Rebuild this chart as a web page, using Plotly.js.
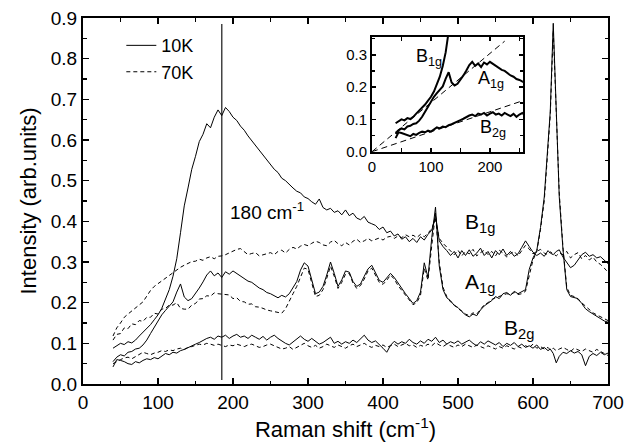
<!DOCTYPE html>
<html><head><meta charset="utf-8">
<script src="https://cdn.plot.ly/plotly-3.0.1.min.js"></script>
<style>html,body{margin:0;padding:0;background:#fff;} #chart{width:634px;height:445px;}</style>
</head><body><div id="chart"></div>
<script>
// Raman shift grid (cm^-1)
const ramanShift = [
 40,45,50,55,60,65,70,75,80,85,
 90,95,100,105,110,115,120,125,130,135,
 140,145,150,155,160,165,170,175,180,185,
 190,195,200,205,210,215,220,225,230,235,
 240,245,250,255,260,265,270,275,280,285,
 290,295,300,305,310,315,320,325,330,335,
 340,345,350,355,360,365,370,375,380,385,
 390,395,400,405,410,415,420,425,430,435,
 440,445,450,455,460,465,470,475,480,485,
 490,495,500,505,510,515,520,525,530,535,
 540,545,550,555,560,565,570,575,580,585,
 590,595,600,605,610,615,620,623,627,631,
 635,640,645,650,655,660,665,670,675,680,
 685,690,695,700];

const b1g10K = [
 0.088,0.095,0.100,0.097,0.104,0.101,0.108,0.118,0.127,0.136,
 0.146,0.158,0.170,0.186,0.208,0.232,0.265,0.308,0.372,0.438,
 0.482,0.528,0.560,0.596,0.614,0.640,0.630,0.656,0.674,0.660,
 0.680,0.670,0.656,0.648,0.634,0.624,0.610,0.598,0.586,0.574,
 0.562,0.550,0.540,0.528,0.520,0.506,0.500,0.490,0.482,0.474,
 0.470,0.460,0.456,0.448,0.442,0.455,0.434,0.428,0.432,0.422,
 0.426,0.416,0.428,0.414,0.420,0.408,0.404,0.412,0.398,0.394,
 0.390,0.380,0.386,0.372,0.376,0.364,0.369,0.356,0.362,0.350,
 0.358,0.348,0.362,0.354,0.368,0.378,0.415,0.352,0.338,0.328,
 0.316,0.326,0.310,0.328,0.316,0.330,0.314,0.322,0.334,0.316,
 0.326,0.310,0.328,0.318,0.332,0.316,0.326,0.314,0.320,0.336,
 0.352,0.338,0.324,0.316,0.322,0.314,0.328,0.322,0.318,0.326,
 0.330,0.312,0.300,0.286,0.292,0.306,0.318,0.324,0.314,0.318,
 0.310,0.313,0.304,0.296];

const b1g70K = [
 0.118,0.138,0.150,0.164,0.172,0.180,0.188,0.194,0.202,0.216,
 0.230,0.240,0.247,0.254,0.260,0.268,0.274,0.282,0.287,0.292,
 0.296,0.301,0.302,0.307,0.304,0.310,0.313,0.308,0.314,0.315,
 0.318,0.322,0.327,0.331,0.333,0.325,0.318,0.321,0.323,0.315,
 0.318,0.321,0.323,0.318,0.326,0.329,0.322,0.331,0.336,0.332,
 0.339,0.343,0.340,0.346,0.351,0.348,0.342,0.340,0.349,0.353,
 0.345,0.340,0.348,0.342,0.351,0.356,0.348,0.352,0.358,0.352,
 0.355,0.359,0.354,0.361,0.363,0.358,0.364,0.360,0.367,0.362,
 0.366,0.360,0.368,0.362,0.371,0.382,0.405,0.358,0.346,0.336,
 0.326,0.318,0.329,0.315,0.326,0.320,0.331,0.315,0.323,0.329,
 0.318,0.326,0.315,0.329,0.322,0.312,0.321,0.326,0.315,0.329,
 0.341,0.332,0.320,0.326,0.331,0.322,0.318,0.325,0.320,0.315,
 0.322,0.318,0.326,0.310,0.318,0.323,0.308,0.316,0.305,0.312,
 0.300,0.294,0.285,0.275];

const a1g10K = [
 0.055,0.066,0.072,0.069,0.078,0.080,0.086,0.088,0.096,0.108,
 0.124,0.140,0.157,0.170,0.181,0.192,0.202,0.226,0.246,0.214,
 0.205,0.210,0.222,0.236,0.251,0.268,0.278,0.266,0.273,0.262,
 0.276,0.270,0.278,0.272,0.265,0.260,0.253,0.250,0.242,0.236,
 0.232,0.225,0.222,0.217,0.212,0.218,0.214,0.222,0.238,0.252,
 0.280,0.298,0.290,0.255,0.222,0.226,0.240,0.268,0.300,0.272,
 0.240,0.256,0.278,0.275,0.252,0.240,0.246,0.265,0.283,0.292,
 0.272,0.255,0.250,0.262,0.272,0.262,0.248,0.235,0.222,0.210,
 0.198,0.205,0.226,0.298,0.262,0.360,0.435,0.290,0.232,0.212,
 0.205,0.193,0.188,0.178,0.170,0.165,0.172,0.168,0.182,0.192,
 0.198,0.205,0.215,0.210,0.222,0.225,0.218,0.228,0.222,0.226,
 0.232,0.282,0.310,0.328,0.385,0.460,0.580,0.670,0.887,0.680,
 0.460,0.330,0.232,0.215,0.212,0.210,0.198,0.185,0.178,0.172,
 0.168,0.160,0.155,0.152];

const a1g70K = [
 0.108,0.122,0.124,0.138,0.136,0.148,0.146,0.156,0.154,0.164,
 0.164,0.174,0.172,0.184,0.186,0.194,0.194,0.200,0.186,0.184,
 0.184,0.194,0.198,0.209,0.210,0.217,0.216,0.224,0.222,0.221,
 0.220,0.219,0.210,0.212,0.203,0.202,0.196,0.197,0.190,0.189,
 0.186,0.182,0.180,0.178,0.176,0.174,0.185,0.205,0.222,0.240,
 0.262,0.285,0.282,0.245,0.215,0.218,0.232,0.260,0.290,0.265,
 0.235,0.250,0.270,0.272,0.248,0.235,0.242,0.258,0.278,0.285,
 0.268,0.250,0.245,0.255,0.268,0.258,0.242,0.230,0.218,0.205,
 0.195,0.200,0.218,0.285,0.255,0.340,0.420,0.300,0.238,0.215,
 0.202,0.195,0.185,0.180,0.172,0.168,0.175,0.172,0.185,0.195,
 0.200,0.208,0.212,0.215,0.218,0.222,0.220,0.225,0.220,0.222,
 0.228,0.270,0.305,0.325,0.380,0.450,0.570,0.660,0.870,0.690,
 0.470,0.335,0.238,0.218,0.215,0.208,0.200,0.192,0.182,0.175,
 0.170,0.165,0.160,0.156];

const b2g10K = [
 0.042,0.060,0.058,0.055,0.050,0.048,0.055,0.052,0.058,0.062,
 0.060,0.065,0.062,0.068,0.075,0.072,0.078,0.076,0.082,0.085,
 0.090,0.094,0.098,0.102,0.108,0.112,0.115,0.110,0.118,0.115,
 0.120,0.112,0.118,0.122,0.115,0.118,0.112,0.120,0.115,0.110,
 0.117,0.108,0.115,0.120,0.112,0.105,0.100,0.096,0.104,0.112,
 0.118,0.110,0.105,0.112,0.104,0.098,0.102,0.108,0.115,0.100,
 0.105,0.098,0.104,0.100,0.108,0.102,0.112,0.120,0.108,0.102,
 0.106,0.098,0.088,0.078,0.095,0.105,0.098,0.104,0.100,0.110,
 0.102,0.098,0.106,0.100,0.110,0.105,0.115,0.102,0.108,0.098,
 0.104,0.100,0.106,0.098,0.102,0.108,0.100,0.094,0.104,0.098,
 0.106,0.100,0.096,0.102,0.092,0.100,0.095,0.102,0.092,0.098,
 0.090,0.094,0.088,0.096,0.085,0.090,0.082,0.086,0.075,0.052,
 0.068,0.078,0.075,0.082,0.076,0.080,0.072,0.045,0.068,0.075,
 0.070,0.078,0.072,0.076];

const b2g70K = [
 0.050,0.056,0.060,0.064,0.066,0.062,0.068,0.072,0.078,0.075,
 0.072,0.076,0.078,0.082,0.080,0.084,0.082,0.086,0.088,0.085,
 0.090,0.092,0.095,0.098,0.096,0.100,0.098,0.095,0.098,0.094,
 0.092,0.096,0.094,0.098,0.095,0.092,0.096,0.098,0.094,0.090,
 0.092,0.096,0.098,0.094,0.090,0.086,0.088,0.092,0.085,0.090,
 0.096,0.100,0.094,0.090,0.095,0.088,0.092,0.098,0.094,0.090,
 0.096,0.092,0.088,0.094,0.098,0.092,0.096,0.100,0.094,0.090,
 0.095,0.092,0.096,0.090,0.094,0.098,0.092,0.096,0.100,0.094,
 0.096,0.090,0.095,0.092,0.098,0.094,0.102,0.096,0.092,0.098,
 0.094,0.090,0.096,0.092,0.098,0.094,0.090,0.096,0.092,0.088,
 0.094,0.090,0.086,0.092,0.088,0.094,0.090,0.086,0.092,0.088,
 0.094,0.090,0.098,0.088,0.092,0.086,0.090,0.084,0.088,0.082,
 0.086,0.090,0.085,0.080,0.088,0.084,0.080,0.086,0.082,0.078,
 0.085,0.080,0.075,0.070];

// Inset: linear low-frequency fits through the origin
const fitA1gShift = [0, 225];
const fitA1gIntensity = [0, 0.342];
const fitB2gShift = [0, 256];
const fitB2gIntensity = [0, 0.158];

// Vertical marker line near 180 cm^-1
const markerShift = 185;
const markerRange = [0.01, 0.885];

const FONT = 'Liberation Sans, Arial, Helvetica, sans-serif';
const solidMain = {color:'#000', width:1};
const dashMain = {color:'#000', width:1, dash:'4px,3px'};
const solidInset = {color:'#000', width:2};
const dashInset = {color:'#000', width:1, dash:'6px,4px'};

function tr(y, line, name, show, xa, ya) {
  return {x: ramanShift, y: y, type:'scatter', mode:'lines', line: line,
          name: name, showlegend: show, legendgroup: name,
          xaxis: xa || 'x', yaxis: ya || 'y', hoverinfo:'skip'};
}

const data = [
  {x:[markerShift, markerShift], y:markerRange, type:'scatter', mode:'lines',
   line:{color:'#444', width:1.5}, showlegend:false, hoverinfo:'skip'},
  tr(b1g10K, solidMain, '10K', true),
  tr(b1g70K, dashMain, '70K', true),
  tr(a1g10K, solidMain, '10K', false),
  tr(a1g70K, dashMain, '70K', false),
  tr(b2g10K, solidMain, '10K', false),
  tr(b2g70K, dashMain, '70K', false),
  // inset
  {x: fitA1gShift, y: fitA1gIntensity, type:'scatter', mode:'lines', line: dashInset,
   showlegend:false, xaxis:'x2', yaxis:'y2', hoverinfo:'skip'},
  {x: fitB2gShift, y: fitB2gIntensity, type:'scatter', mode:'lines', line: dashInset,
   showlegend:false, xaxis:'x2', yaxis:'y2', hoverinfo:'skip'},
  tr(b1g10K, solidInset, 'B1g', false, 'x2', 'y2'),
  tr(a1g10K, solidInset, 'A1g', false, 'x2', 'y2'),
  tr(b2g10K, solidInset, 'B2g', false, 'x2', 'y2')
];

const axCommon = {showline:true, linecolor:'#000', mirror:'ticks', ticks:'inside',
  tickcolor:'#000', showgrid:false, zeroline:false, automargin:false};

const layout = {
  width:634, height:445,
  margin:{l:83, r:26, t:18, b:61, pad:0},
  paper_bgcolor:'#fff', plot_bgcolor:'#fff',
  font:{family:FONT, color:'#000', size:19},
  showlegend:true,
  legend:{x:0.073, y:0.975, xanchor:'left', yanchor:'top', bgcolor:'rgba(0,0,0,0)',
          font:{size:18}, tracegroupgap:0, itemwidth:30},
  xaxis: Object.assign({}, axCommon, {domain:[0,1], range:[0,700], dtick:100, tick0:0,
    linewidth:2, ticklen:6, tickwidth:1.5, tickfont:{size:19},
    minor:{ticks:'inside', dtick:50, ticklen:3.5, tickwidth:1.5, tickcolor:'#000'},
    title:{text:'Raman shift (cm<sup>-1</sup>)', font:{size:22}, standoff:10}}),
  yaxis: Object.assign({}, axCommon, {domain:[0,1], range:[0,0.9], dtick:0.1, tick0:0,
    tickformat:'.1f', linewidth:2, ticklen:6, tickwidth:1.5, tickfont:{size:19},
    minor:{ticks:'inside', dtick:0.05, ticklen:3.5, tickwidth:1.5, tickcolor:'#000'},
    title:{text:'Intensity (arb.units)', font:{size:22}, standoff:8}}),
  xaxis2: Object.assign({}, axCommon, {domain:[0.5505,0.838], anchor:'y2', range:[0,256],
    dtick:100, tick0:0, linewidth:2, ticklen:4, tickwidth:1.5, tickfont:{size:15},
    minor:{ticks:'inside', dtick:50, ticklen:4, tickwidth:1.5, tickcolor:'#000'}}),
  yaxis2: Object.assign({}, axCommon, {domain:[0.6347,0.949], anchor:'x2', range:[0,0.356],
    dtick:0.1, tick0:0, tickformat:'.1f', linewidth:2, ticklen:4, tickwidth:1.5,
    tickfont:{size:15},
    minor:{ticks:'inside', dtick:0.05, ticklen:3, tickwidth:1.5, tickcolor:'#000'}}),
  annotations:[
    {text:'180 cm<sup>-1</sup>', xref:'x', yref:'y', x:193, y:0.425, xanchor:'left', yanchor:'middle',
     showarrow:false, font:{size:19}},
    {text:'B<sub>1g</sub>', xref:'x', yref:'y', x:506, y:0.395, xanchor:'left', yanchor:'middle',
     showarrow:false, font:{size:21}},
    {text:'A<sub>1g</sub>', xref:'x', yref:'y', x:506, y:0.248, xanchor:'left', yanchor:'middle',
     showarrow:false, font:{size:21}},
    {text:'B<sub>2g</sub>', xref:'x', yref:'y', x:558, y:0.135, xanchor:'left', yanchor:'middle',
     showarrow:false, font:{size:21}},
    {text:'B<sub>1g</sub>', xref:'x2', yref:'y2', x:72, y:0.29, xanchor:'left', yanchor:'middle',
     showarrow:false, font:{size:18}},
    {text:'A<sub>1g</sub>', xref:'x2', yref:'y2', x:177, y:0.222, xanchor:'left', yanchor:'middle',
     showarrow:false, font:{size:18}},
    {text:'B<sub>2g</sub>', xref:'x2', yref:'y2', x:180, y:0.072, xanchor:'left', yanchor:'middle',
     showarrow:false, font:{size:18}}
  ]
};

Plotly.newPlot('chart', data, layout, {staticPlot:true, displayModeBar:false});
</script></body></html>
